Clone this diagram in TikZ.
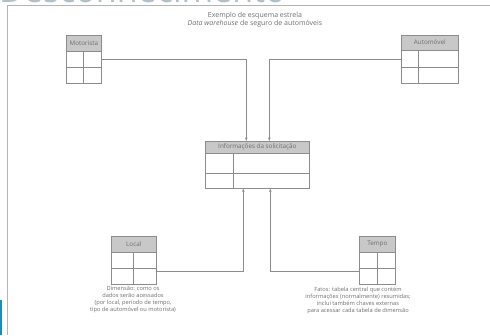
\documentclass[tikz,border=0pt]{standalone}
\usepackage{fontspec}
\setmainfont{Open Sans}
\usetikzlibrary{calc,arrows.meta}
\definecolor{ink}{HTML}{6E6E6E}
\definecolor{rule}{HTML}{8C8C8C}
\definecolor{headfill}{HTML}{C8C8C8}
\definecolor{framegray}{HTML}{B4B4B4}
\definecolor{banner}{HTML}{AFC0C8}
\definecolor{accent}{HTML}{1E8DB0}

% #1 node name, #2 header fraction, #3 row-line fraction, #4 column fraction, #5 header text
\newcommand\tablegrid[5]{%
  \fill[headfill] (#1.north west) rectangle ($(#1.north east)!#2!(#1.south east)$);
  \coordinate (#1-h) at ($(#1.north west)!#2!(#1.south west)$);
  \coordinate (#1-c) at ($(#1.north west)!#4!(#1.north east)$);
  \draw[grid] (#1-h) -- (#1-h -| #1.east);
  \draw[grid] ($(#1.north west)!#3!(#1.south west)$) -- ($(#1.north east)!#3!(#1.south east)$);
  \draw[grid] (#1-c |- #1-h) -- (#1-c |- #1.south);
  \draw[grid] (#1.north west) rectangle (#1.south east);
  \node[hdr] (#1-title) at ($(#1.north)!0.5*#2!(#1.south)$) {#5};
}

\begin{document}
\begin{tikzpicture}[x=1pt,y=-1pt,
  tbl/.style={draw=rule, line width=0.6pt, rectangle, inner sep=0pt, anchor=north west},
  grid/.style={draw=rule, line width=0.6pt},
  hdr/.style={font=\fontsize{6.3}{7}\selectfont, text=ink, inner sep=0pt},
  note/.style={font=\fontsize{5.7}{7}\selectfont, text=ink, align=center, inner sep=0pt, anchor=north},
  conn/.style={draw=rule, line width=0.6pt, -{Stealth[length=3.5pt,width=2.6pt]}},
]
\useasboundingbox (0,0) rectangle (490,335);
\clip (0,0) rectangle (490,335);

% chapter heading running off the top edge: only the feet of its letters show
\node[anchor=base west, font=\fontsize{34}{34}\selectfont, text=banner, inner sep=0pt] (banner) at (-1,2.5) {Desconhecimento};
\fill[accent] (0,300) rectangle (1.8,335);

% figure frame
\draw[framegray, line width=0.8pt] (490,5) -- (7,5) -- (7,335);

% caption
\node[font=\fontsize{7}{8.5}\selectfont, text=ink, align=center, inner sep=0pt] (title) at (255,19.5)
  {Exemplo de esquema estrela\\\textit{Data warehouse} de seguro de automóveis};

% tables
\node[tbl, minimum width=35pt, minimum height=48pt] (mot) at (66,35) {};
\tablegrid{mot}{0.333}{0.667}{0.49}{Motorista}
\node[tbl, minimum width=57pt, minimum height=48pt] (auto) at (401,35) {};
\tablegrid{auto}{0.31}{0.667}{0.30}{Automóvel}
\node[tbl, minimum width=104pt, minimum height=47pt] (info) at (205,141) {};
\tablegrid{info}{0.255}{0.68}{0.27}{Informações da solicitação}
\node[tbl, minimum width=45pt, minimum height=48pt] (loc) at (111,236) {};
\tablegrid{loc}{0.333}{0.667}{0.49}{Local}
\node[tbl, minimum width=36pt, minimum height=48pt] (tempo) at (359,236) {};
\tablegrid{tempo}{0.333}{0.667}{0.5}{Tempo}

% connectors into the fact table
\draw[conn] (mot.east) -| ([xshift=-11pt]info.north);
\draw[conn] (auto.west) -| ([xshift=12pt]info.north);
\draw[conn] ([yshift=-11pt]loc.east) -| ([xshift=-14pt]info.south);
\draw[conn] ([yshift=-11pt]tempo.west) -| ([xshift=13pt]info.south);

% notes
\node[note] (locnote) at (133,286.5) {Dimensão: como os\\dados serão acessados\\(por local, período de tempo,\\tipo de automóvel ou motorista)};
\node[note] (temponote) at (358,286.5) {Fatos: tabela central que contém\\informações (normalmente) resumidas;\\inclui também chaves externas\\para acessar cada tabela de dimensão};
\end{tikzpicture}
\end{document}
